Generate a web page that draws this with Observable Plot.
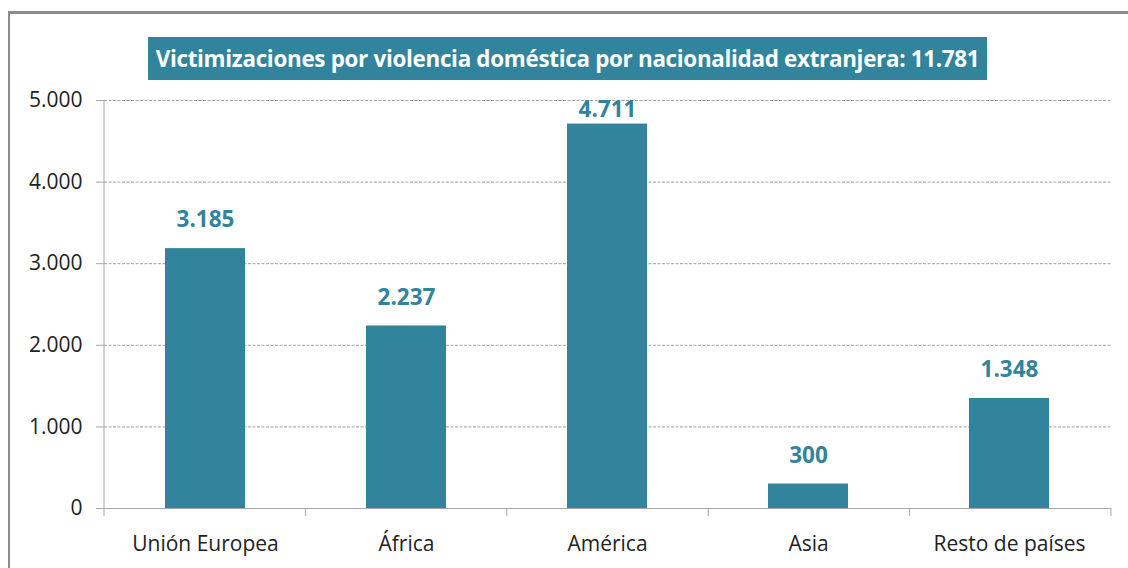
<!DOCTYPE html>
<html>
<head>
<meta charset="utf-8">
<script src="https://cdn.jsdelivr.net/npm/d3@7"></script>
<script src="https://cdn.jsdelivr.net/npm/@observablehq/plot@0.6"></script>
<style>
  html, body { margin: 0; padding: 0; background: #fff; }
  #wrap { position: relative; width: 1128px; height: 568px; overflow: hidden; font-family: "Open Sans", "Noto Sans", sans-serif; }
  #border { position: absolute; left: 8px; top: 11px; width: 1200px; height: 700px; border-top: 3px solid #8c8c8c; border-left: 2px solid #8c8c8c; box-sizing: border-box; }
  #title { position: absolute; left: 148px; top: 37px; width: 839px; height: 43px; background: #31849B; color: #fff; font-weight: 700; font-size: 22.4px; line-height: 43px; text-align: center; letter-spacing: -0.3px; white-space: nowrap; }
  #chart { position: absolute; left: 0; top: 0; }
</style>
</head>
<body>
<div id="wrap">
  <div id="border"></div>
  <div id="title">Victimizaciones por violencia doméstica por nacionalidad extranjera: 11.781</div>
  <div id="chart"></div>
</div>
<script>
const categories = ["Unión Europea", "África", "América", "Asia", "Resto de países"];
const values = [3185, 2237, 4711, 300, 1348];
const yTicks = [0, 1000, 2000, 3000, 4000, 5000];

const data = categories.map((c, i) => ({category: c, value: values[i]}));
const locale = d3.formatLocale({decimal: ",", thousands: ".", grouping: [3]});
const fmt = locale.format(",d");
const teal = "#31849B";

function frameTicks(index, scales, values, dims) {
  const g = d3.create("svg:g");
  const x0 = dims.marginLeft, x1 = dims.width - dims.marginRight;
  const yb = dims.height - dims.marginBottom;
  const n = categories.length;
  const step = (x1 - x0) / n;
  g.append("line").attr("x1", x0).attr("x2", x0).attr("y1", dims.marginTop).attr("y2", yb + 8)
    .attr("stroke", "#a6a6a6").attr("stroke-width", 1);
  for (let i = 1; i <= n; i++) {
    const x = x0 + i * step;
    g.append("line").attr("x1", x).attr("x2", x).attr("y1", yb).attr("y2", yb + 8)
      .attr("stroke", "#a6a6a6").attr("stroke-width", 1);
  }
  return g.node();
}

const labelStyle = {x: "category", y: "value", text: d => fmt(d.value), fill: teal, fontWeight: "bold", fontSize: 22.5};

const plot = Plot.plot({
  width: 1128,
  height: 568,
  marginTop: 100,
  marginBottom: 60,
  marginLeft: 104,
  marginRight: 17,
  style: {fontFamily: "'Open Sans', 'Noto Sans', sans-serif", background: "transparent"},
  x: {domain: categories, paddingInner: 0.6, paddingOuter: 0.3, label: null},
  y: {domain: [0, 5000], label: null},
  marks: [
    Plot.gridY(yTicks.filter(d => d > 0), {stroke: "#a0a0a0", strokeOpacity: 1, strokeDasharray: "3,1.5"}),
    Plot.barY(data, {x: "category", y: "value", fill: teal}),
    Plot.ruleY([0], {stroke: "#a6a6a6"}),
    frameTicks,
    Plot.axisY({ticks: yTicks, tickFormat: fmt, tickSize: 8, tickPadding: 14, fontSize: 21, stroke: "#a6a6a6", color: "#222", strokeOpacity: 1}),
    Plot.axisX({tickSize: 0, tickPadding: 28, fontSize: 21, color: "#222"}),
    Plot.text(data.filter(d => d.value < 4500), {...labelStyle, dy: -28.5}),
    Plot.text(data.filter(d => d.value >= 4500), {...labelStyle, dy: -14})
  ]
});
document.getElementById("chart").appendChild(plot);
</script>
</body>
</html>
